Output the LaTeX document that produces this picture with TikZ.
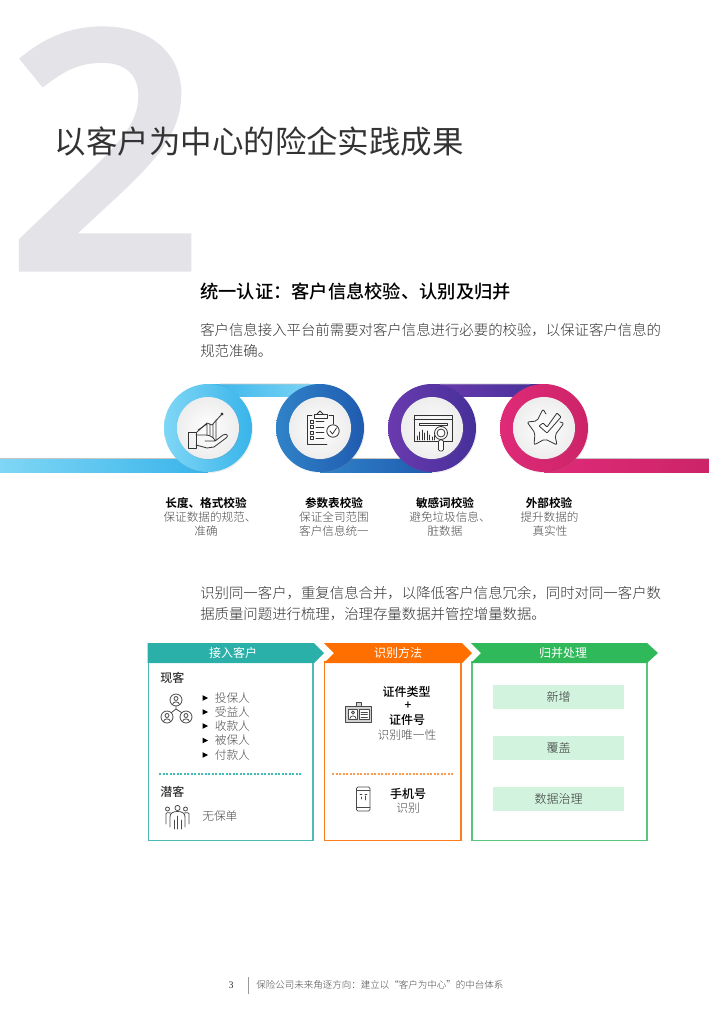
\documentclass[tikz,border=0pt]{standalone}
\usepackage{fontspec}
\setmainfont{Noto Sans CJK SC}[BoldFont={Noto Sans CJK SC Bold}]
\newfontfamily\lightcjk{Noto Sans CJK SC Light}
\newfontfamily\medcjk{Noto Sans CJK SC Medium}
\newfontfamily\serifnum{Liberation Serif}
\newfontfamily\bignum{Open Sans}[FakeBold=4.5]
\usetikzlibrary{shadows,calc,positioning,fadings}
\definecolor{ink}{HTML}{333333}
\definecolor{soft}{HTML}{4A4A4A}
\definecolor{bigtwo}{HTML}{E3E3E8}
\definecolor{cyanA}{HTML}{7FD6F5}
\definecolor{cyanB}{HTML}{38B4EA}
\definecolor{blueA}{HTML}{3083C8}
\definecolor{blueB}{HTML}{1F5BB0}
\definecolor{purpA}{HTML}{6A3AAE}
\definecolor{purpB}{HTML}{46309A}
\definecolor{pinkA}{HTML}{DF2A78}
\definecolor{pinkB}{HTML}{CC2468}
\definecolor{teal1}{HTML}{2AAFA9}
\definecolor{orange1}{HTML}{FF6F00}
\definecolor{green1}{HTML}{2FB95A}
\definecolor{greenbox}{HTML}{D2F3DE}
\definecolor{septeal}{HTML}{3FBDB7}
\definecolor{seporange}{HTML}{FF9A4D}
\newcommand{\pxu}{*0.75pt}
\tikzset{
  ptext/.style={inner sep=0,anchor=west,text=ink,font=\lightcjk\fontsize{10.8pt}{12pt}\selectfont},
  captitle/.style={inner sep=0,text=black,font=\bfseries\fontsize{8.7pt}{10pt}\selectfont},
  capline/.style={inner sep=0,text=soft,font=\lightcjk\fontsize{8.7pt}{10pt}\selectfont},
  boxhead/.style={inner sep=0,text=white,font=\fontsize{9pt}{10pt}\selectfont},
  listtext/.style={inner sep=0,text=soft,font=\lightcjk\fontsize{8.8pt}{10pt}\selectfont},
  strongtext/.style={inner sep=0,text=black,font=\medcjk\fontsize{9pt}{10pt}\selectfont},
  greenitem/.style={fill=greenbox,minimum width=131\pxu,minimum height=24\pxu,inner sep=0,text=ink,font=\lightcjk\fontsize{9pt}{10pt}\selectfont},
  icon/.style={draw=#1,line width=.6pt,line join=round,line cap=round,fill=none},
  icon/.default=ink,
  ring/.style={circle,minimum size=88\pxu,inner sep=0},
  face/.style={circle,minimum size=62\pxu,inner sep=0,inner color=white,outer color=gray!14},
  softshadow/.style={drop shadow={opacity=.13,shadow xshift=.8pt,shadow yshift=-.8pt}},
}
\begin{document}
\begin{tikzpicture}[x=0.75pt,y=-0.75pt]
\useasboundingbox (0,0) rectangle (709,1024);
% big numeral
\node[inner sep=0,text=bigtwo,anchor=center] (bignumeral) at (106,149) {\resizebox{143.5pt}{173pt}{\bignum 2}};
\node[inner sep=0,anchor=west,text=ink,font=\fontsize{23.6pt}{26pt}\selectfont] (title) at (54.5,142) {以客户为中心的险企实践成果};
\node[inner sep=0,anchor=west,text=black,font=\medcjk\fontsize{13.7pt}{16pt}\selectfont] (sub) at (200,292) {统一认证：客户信息校验、认别及归并};
\node[ptext] (p1a) at (200,330) {客户信息接入平台前需要对客户信息进行必要的校验，以保证客户信息的};
\node[ptext] (p1b) at (200,351) {规范准确。};
% ribbons
\shade[left color=cyanA,right color=cyanB] (0,458.5) rectangle (208,472);
\shade[left color=cyanB,right color=cyanA] (208,384) rectangle (320,396);
\shade[left color=blueA,right color=blueB] (320,458.5) rectangle (432,472);
\shade[left color=purpA,right color=purpB] (432,384) rectangle (544,396);
\shade[left color=pinkA,right color=pinkB] (544,458.5) rectangle (709,472);
\fill[gray!45] (0,458.2) rectangle (180,458.8) (330,458.2) rectangle (400,458.8) (570,458.2) rectangle (709,458.8) (220,383.7) rectangle (310,384.3) (440,383.7) rectangle (530,384.3);
% rings
\node[ring,left color=cyanA,right color=cyanB,softshadow] (r1) at (208,428) {};
\node[ring,left color=blueA,right color=blueB,softshadow] (r2) at (320,428) {};
\node[ring,left color=purpA,right color=purpB,softshadow] (r3) at (432,428) {};
\node[ring,left color=pinkA,right color=pinkB,softshadow] (r4) at (544,428) {};
\node[face,softshadow] (f1) at (208,428) {};
\node[face,softshadow] (f2) at (320,428) {};
\node[face,softshadow] (f3) at (432,428) {};
\node[face,softshadow] (f4) at (544,428) {};
% icon 1: hand and chart
\begin{scope}[icon]
 \draw (188,432) rectangle (196,448);
 \draw (196,435) -- (206,435) .. controls (211,435) and (215,439) .. (215,441) -- (205,441)
  (215,441) -- (223,435) .. controls (227,433) and (229,436) .. (226,438) -- (214,447) -- (207,448) -- (196,445);
 \draw (197,432) -- (207,423) -- (212,425) -- (222,414);
 \draw (198,430) -- (207,424) -- (207,435) (210,424) -- (210,435) (213,424) -- (213,438) (216,420) -- (216,440);
 \draw[fill=ink] (222,414) circle (1);
\end{scope}
% icon 2: clipboard
\begin{scope}[icon]
 \draw (312,415) -- (307,415) -- (307,444) -- (327,444) (333,424) -- (333,415) -- (329,415);
 \draw (314,414) rectangle (327,418);
 \draw (317,414) -- (320,411) -- (323,414);
 \foreach \yy in {420,425.5,431,436.5} {\draw (310,\yy) rectangle (313,\yy+3); \draw (316,\yy+1.5) -- (324,\yy+1.5);}
 \draw[fill=white] (333,431) circle (6.2);
 \draw (330,431) -- (332.5,434) -- (336.5,428);
\end{scope}
% icon 3: browser and magnifier
\begin{scope}[icon]
 \draw (414,415) rectangle (452,441);
 \draw (414,419) -- (452,419);
 \draw (419,423) rectangle (447,425);
 \foreach \xx/\hh in {417/4,419.5/8,422/10,424.5/7,427/9,429.5/5,432/3,434.5/5} {\draw (\xx,440) -- (\xx,440-\hh);}
 \draw[fill=white] (441,433) circle (6.5);
 \draw (441,433) circle (4);
 \draw[fill=white,rounded corners=1pt] (438.5,440) rectangle (443.5,451);
\end{scope}
% icon 4: star and tick
\begin{scope}[icon]
 \draw[rounded corners=1.5pt] (546,414) -- (543,409) -- (537,421) -- (527,422) -- (535,433) -- (534,445) -- (545,439) -- (557,445) -- (555,435) -- (564,423) -- (560,422);
 \draw[rounded corners=.6pt] (539,426) -- (543,423) -- (547,427) -- (557,413) -- (561,417) -- (547,433) -- cycle;
\end{scope}
% captions
\node[captitle] (c1t) at (206,503) {长度、格式校验};
\node[capline] (c1a) at (210,517) {保证数据的规范、};
\node[capline] (c1b) at (206,531) {准确};
\node[captitle] (c2t) at (334,503) {参数表校验};
\node[capline] (c2a) at (334,517) {保证全司范围};
\node[capline] (c2b) at (334,531) {客户信息统一};
\node[captitle] (c3t) at (445,503) {敏感词校验};
\node[capline] (c3a) at (450,517) {避免垃圾信息、};
\node[capline] (c3b) at (445,531) {脏数据};
\node[captitle] (c4t) at (549,503) {外部校验};
\node[capline] (c4a) at (549.5,517) {提升数据的};
\node[capline] (c4b) at (550,531) {真实性};
\node[ptext] (p2a) at (200,593) {识别同一客户，重复信息合并，以降低客户信息冗余，同时对同一客户数};
\node[ptext] (p2b) at (200,614) {据质量问题进行梳理，治理存量数据并管控增量数据。};
% panels
\draw[teal1!85!white,line width=1.3pt] (148.5,662) rectangle (313,840.5);
\draw[orange1!90!white,line width=1.3pt] (324.5,662) rectangle (461,840.5);
\draw[green1!80!white,line width=1.3pt] (472,662) rectangle (647,840.5);
\foreach \xx in {159,162.5,...,302}{\fill[septeal] (\xx,772.8) rectangle (\xx+2.4,774.5);}
\foreach \xx in {332,335.5,...,451}{\fill[seporange] (\xx,772.8) rectangle (\xx+2.4,774.5);}
\fill[teal1] (147.5,643) -- (314,643) -- (324,653) -- (314,663) -- (147.5,663) -- cycle;
\fill[orange1] (324,643) -- (462,643) -- (472,653) -- (462,663) -- (324,663) -- (334,653) -- cycle;
\fill[green1] (471,643) -- (647,643) -- (658,653) -- (647,663) -- (471,663) -- (481,653) -- cycle;
\node[boxhead] (h1) at (233,653) {接入客户};
\node[boxhead] (h2) at (398,653) {识别方法};
\node[boxhead] (h3) at (563,653) {归并处理};
% left panel
\node[strongtext,anchor=west,text=ink] (xk) at (160,678) {现客};
\foreach \nm/\yy/\tx in {a/698/投保人,b/712/受益人,c/726/收款人,d/740.5/被保人,e/755/付款人}{
 \node[listtext,anchor=west] (l\nm) at (214.5,\yy) {\tx};
 \fill[black] (202.5,\yy-2.8) -- (208,\yy) -- (202.5,\yy+2.8) -- cycle;
}
\begin{scope}[icon=soft]
 \foreach \cx/\cy in {176/700,167/717,186/717}{
  \draw (\cx,\cy) circle (6);
  \draw (\cx,\cy-1.5) circle (2);
  \draw (\cx-3.5,\cy+4.5) .. controls (\cx-3,\cy+1) and (\cx+3,\cy+1) .. (\cx+3.5,\cy+4.5);
 }
 \draw (176,706) -- (176,709) -- (171.5,712.5) (176,709) -- (181.5,712.5);
\end{scope}
\node[strongtext,anchor=west,text=ink] (qk) at (160,792) {潜客};
\node[listtext,anchor=west] (nb) at (202,816) {无保单};
\begin{scope}[icon=soft]
 \draw (177.5,808) circle (2.6) (167.5,809) circle (2) (185.5,809) circle (2);
 \draw (170,827) -- (170,817) .. controls (170,813) and (173,811.5) .. (177.5,811.5) .. controls (182,811.5) and (185,813) .. (185,817) -- (185,827);
 \draw (174,829) -- (174,820) (181,829) -- (181,820) (177.5,816) -- (177.5,829);
 \draw (166,824) -- (166,815) .. controls (165,812.5) and (169,812) .. (171,813) (189,824) -- (189,815) .. controls (190,812.5) and (186,812) .. (184,813);
\end{scope}
% middle panel
\node[strongtext] (zj1) at (406.5,692) {证件类型};
\node[strongtext] (plus) at (408,706) {+};
\node[strongtext] (zj2) at (407,720) {证件号};
\node[listtext] (wy) at (407,735) {识别唯一性};
\begin{scope}[icon=soft]
 \draw[fill=gray!35] (345.5,706) rectangle (371.5,722);
 \draw[fill=gray!35] (356,702.5) rectangle (361.5,706);
 \draw[fill=white] (348.5,709) rectangle (357.5,719.5);
 \draw (353,712.5) circle (1.5) (350,718.5) .. controls (350,715) and (356,715) .. (356,718.5);
 \draw[fill=white] (359.5,709.5) rectangle (369,719);
 \draw (361,712) -- (367.5,712) (361,714.5) -- (367.5,714.5) (361,717) -- (367.5,717);
\end{scope}
\node[strongtext] (sj) at (408,794) {手机号};
\node[listtext] (sb) at (408,808) {识别};
\begin{scope}[icon=soft]
 \draw[rounded corners=1pt] (356.5,787) rectangle (370,811);
 \draw (356.5,790) -- (370,790) (356.5,807) -- (370,807);
 \draw (360,794) -- (362,794) (365,794) -- (367,794) (361,797) -- (361,799) (365,796) -- (365,800);
\end{scope}
% right panel
\node[greenitem] (g1) at (558.5,696.5) {新增};
\node[greenitem] (g2) at (558.5,747.5) {覆盖};
\node[greenitem] (g3) at (558.5,799) {数据治理};
% footer
\node[inner sep=0,text=ink,font=\serifnum\fontsize{7.5pt}{9pt}\selectfont] (pg) at (231,985) {3};
\draw[gray!80,line width=.5pt] (248.5,977) -- (248.5,994);
\node[inner sep=0,anchor=west,text=soft,font=\lightcjk\fontsize{7.13pt}{9pt}\selectfont] (ft) at (256,985) {保险公司未来角逐方向：建立以“客户为中心”的中台体系};
\end{tikzpicture}
\end{document}
